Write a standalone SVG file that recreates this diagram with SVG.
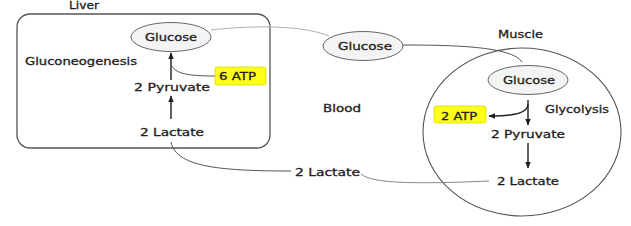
<svg xmlns="http://www.w3.org/2000/svg" width="631" height="226" viewBox="0 0 631 226">
<defs>
<style>
.t{font-family:"DejaVu Sans","Liberation Sans",sans-serif;font-size:10.5px;fill:#1e1e1e;stroke:#1e1e1e;stroke-width:0.3}
.node{fill:#f4f4f4;stroke:#666;stroke-width:1}
.box{fill:none;stroke:#555;stroke-width:1.3}
.atp{fill:#ffff1a;stroke:#e0d800;stroke-width:0.8}
.arrow{fill:none;stroke:#1e1e1e;stroke-width:1.4;marker-end:url(#ah)}
.link{fill:none;stroke-width:1}
</style>
<marker id="ah" viewBox="0 0 10 10" refX="9" refY="5" markerWidth="7" markerHeight="7" orient="auto" markerUnits="userSpaceOnUse">
<path d="M0,1 L10,5 L0,9 z" fill="#1e1e1e"/>
</marker>
</defs>
<rect width="631" height="226" fill="#fff"/>

<g id="liver">
<rect class="box" x="17" y="14" width="253" height="134" rx="13"/>
<text class="t" x="69" y="9" textLength="30" lengthAdjust="spacingAndGlyphs">Liver</text>
<text class="t" x="25" y="65" textLength="112" lengthAdjust="spacingAndGlyphs">Gluconeogenesis</text>
</g>
<g id="liver-glucose">
<ellipse class="node" cx="171" cy="37" rx="40" ry="14.5"/>
<text class="t" x="145" y="41" textLength="52" lengthAdjust="spacingAndGlyphs">Glucose</text>
</g>
<g id="liver-atp">
<rect class="atp" x="215" y="67" width="51" height="18" rx="2"/>
<text class="t" x="219" y="80" textLength="37" lengthAdjust="spacingAndGlyphs">6 ATP</text>
</g>
<g id="liver-pyruvate">
<text class="t" x="134" y="91" textLength="76" lengthAdjust="spacingAndGlyphs">2 Pyruvate</text>
</g>
<g id="liver-lactate">
<text class="t" x="140" y="136" textLength="64" lengthAdjust="spacingAndGlyphs">2 Lactate</text>
</g>

<g id="blood">
<text class="t" x="323" y="112" textLength="38" lengthAdjust="spacingAndGlyphs">Blood</text>
</g>
<g id="blood-glucose">
<ellipse class="node" cx="363" cy="46" rx="40" ry="14.5"/>
<text class="t" x="338" y="50" textLength="54" lengthAdjust="spacingAndGlyphs">Glucose</text>
</g>
<g id="blood-lactate">
<text class="t" x="295" y="176" textLength="65" lengthAdjust="spacingAndGlyphs">2 Lactate</text>
</g>

<g id="muscle">
<ellipse fill="none" stroke="#555" stroke-width="1.1" cx="522" cy="132" rx="99" ry="84"/>
<text class="t" x="498" y="38" textLength="45" lengthAdjust="spacingAndGlyphs">Muscle</text>
<text class="t" x="545" y="113" textLength="64" lengthAdjust="spacingAndGlyphs">Glycolysis</text>
</g>
<g id="muscle-glucose">
<ellipse class="node" cx="528" cy="80" rx="40" ry="14.5"/>
<text class="t" x="503" y="84" textLength="52" lengthAdjust="spacingAndGlyphs">Glucose</text>
</g>
<g id="muscle-atp">
<rect class="atp" x="434" y="106" width="52" height="17" rx="2"/>
<text class="t" x="441" y="120" textLength="36" lengthAdjust="spacingAndGlyphs">2 ATP</text>
</g>
<g id="muscle-pyruvate">
<text class="t" x="491" y="138" textLength="74" lengthAdjust="spacingAndGlyphs">2 Pyruvate</text>
</g>
<g id="muscle-lactate">
<text class="t" x="497" y="185" textLength="62" lengthAdjust="spacingAndGlyphs">2 Lactate</text>
</g>

<g id="connectors">
<path class="link" stroke="#b0b0b0" d="M211,30 C245,26 300,24 329,36"/>
<path class="link" stroke="#555" d="M403,45 C450,45 512,46 522,62"/>
<path class="link" stroke="#555" d="M171,142 C176,166 215,171 291,171"/>
<path class="link" stroke="#888" d="M361,174 C372,184 420,184 489,181"/>
<path class="arrow" d="M171,80 L171,53"/>
<path class="arrow" d="M171,119 L171,96"/>
<path class="link" stroke="#555" d="M172,66 C176,74 190,76 215,76"/>
<path class="arrow" d="M528,100 L528,125"/>
<path class="arrow" d="M528,143 L528,168"/>
<path class="arrow" d="M528,104 C528,113 515,116 489,116"/>
</g>
</svg>
